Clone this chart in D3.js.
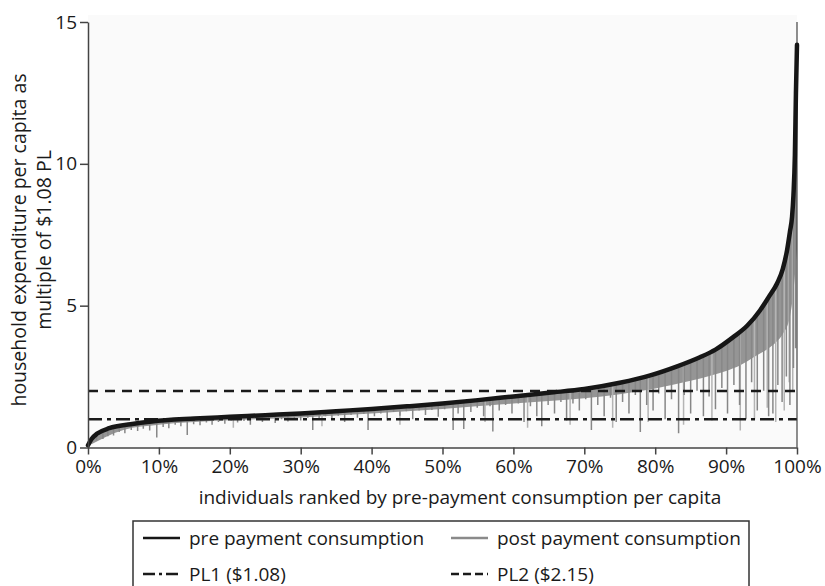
<!DOCTYPE html>
<html>
<head>
<meta charset="UTF-8">
<title>pre and post payment consumption</title>
<script src="https://d3js.org/d3.v7.min.js"></script>
<style>
body { margin: 0; background: #fff; }
svg text { font-family: "Open Sans", "Noto Sans", sans-serif; fill: #1a1a1a; }
</style>
</head>
<body>
<svg id="chart" width="825" height="586"></svg>
<script type="text/javascript">

// pre payment consumption (sorted) : percentile of individuals -> multiple of PL
var prePct = [0, 0.5, 1.3, 3, 6, 9, 15, 20, 25, 30, 35, 40, 45, 50, 55, 60, 65, 70, 75, 79.3, 83, 86.3, 88.5, 91, 93, 94.8, 96, 97.2, 98, 98.6, 99, 99.3, 99.5, 99.7, 99.85, 100];
var preVal = [0.08, 0.3, 0.49, 0.68, 0.82, 0.92, 1.02, 1.08, 1.14, 1.2, 1.28, 1.36, 1.45, 1.55, 1.67, 1.8, 1.93, 2.06, 2.28, 2.54, 2.85, 3.18, 3.45, 3.89, 4.3, 4.84, 5.3, 5.79, 6.3, 6.96, 7.6, 8.13, 8.9, 10.3, 12.5, 14.2];

// lower edge of the dense post payment band
var bandPct = [0, 5, 10, 20, 30, 40, 50, 60, 65, 70, 75, 80, 85, 88, 90, 92, 94, 96, 97, 98, 99, 99.5, 100];
var bandVal = [0.05, 0.62, 0.8, 0.96, 1.06, 1.2, 1.36, 1.55, 1.64, 1.74, 1.88, 2.08, 2.35, 2.55, 2.7, 2.9, 3.2, 3.5, 3.7, 4.0, 4.6, 5.5, 7];

// single households whose post payment consumption drops further [pct, value]
var spikesDark = [
	[1.2,0.25],[2.1,0.3],[2.8,0.4],[3.6,0.42],[4.4,0.55],[5.2,0.5],[6.1,0.62],[7.0,0.58],[7.8,0.66],[8.7,0.6],[9.7,0.35],
	[10.6,0.72],[11.4,0.68],[12.3,0.8],[13.1,0.75],[14.0,0.44],[14.9,0.82],[15.8,0.78],[16.7,0.88],[17.5,0.8],[18.4,0.9],[19.3,0.84],
	[20.2,0.95],[21.1,0.88],[22.0,0.93],[22.9,0.8],[23.8,0.98],[24.6,0.9],[25.5,0.99],[26.4,0.86],[27.3,1.0],[28.2,0.92],[29.1,1.02],
	[30.0,0.95],[31.0,1.05],[31.7,0.62],[32.6,1.0],[33.5,1.1],[34.4,0.98],[35.3,1.12],[36.2,0.9],[37.1,1.15],[38.0,1.05],[38.9,1.18],[39.5,0.62],
	[40.4,1.1],[41.3,1.2],[42.2,0.95],[43.1,1.25],[44.0,1.12],[44.9,1.28],[45.8,1.0],[46.7,1.3],[47.6,1.15],[48.5,1.32],[49.4,1.08],
	[50.3,1.35],[51.5,0.62],[52.2,1.2],[53.0,0.65],[54.0,1.25],[54.9,1.4],[55.8,1.1],[56.7,1.45],[57.1,0.56],[58.0,1.3],[58.9,1.5],[59.8,1.2],
	[60.7,1.55],[61.5,0.9],[62.4,1.45],[63.3,1.1],[64.0,0.75],[64.9,1.5],[65.8,1.2],[66.7,1.6],[67.5,0.95],[68.4,1.55],[69.3,1.3],
	[70.2,1.7],[71.0,0.62],[71.9,1.5],[72.8,1.1],[73.7,1.75],[74.5,0.9],[75.4,1.6],[76.3,1.2],[77.2,1.85],[77.9,0.55],[78.8,1.5],[79.7,1.3],
	[80.5,1.9],[81.4,1.0],[82.3,1.7],[83.3,0.5],[84.1,1.85],[85.0,1.2],[85.9,2.0],[86.8,1.1],[87.6,1.8],[88.5,1.35],[89.4,2.1],
	[90.2,1.2],[91.1,2.2],[91.9,1.5],[92.8,1.0],[93.6,2.3],[94.4,1.3],[95.3,2.0],[96.0,1.1],[96.6,1.2],[97.3,2.2],[97.9,1.6],[98.5,2.5],[99.0,1.5],[99.5,2.8],[99.8,3.5]
];
var spikesLight = [
	[20.5,0.7],[33,0.75],[44,0.8],[56,0.9],[62,0.7],[68,0.8],[74,0.7],[79,0.9],[84,0.8],[88,0.95],
	[92,0.6],[94,1.0],[95.8,1.4],[97,0.9],[98.2,1.3],[98.9,2.3],[99.4,2.0]
];

// poverty lines as multiple of $1.08
var plValues = [1, 2.15 / 1.08];
var plNames = ["PL1 ($1.08)", "PL2 ($2.15)"];

var xTicks = [0, 10, 20, 30, 40, 50, 60, 70, 80, 90, 100];
var yTicks = [0, 5, 10, 15];

var svg = d3.select("#chart");
var x = d3.scaleLinear().domain([0, 100]).range([88, 797]);
var y = d3.scaleLinear().domain([0, 15]).range([447.5, 22]);

var pre = prePct.map(function(p, i) { return [p, preVal[i]]; });
var band = bandPct.map(function(p, i) { return [p, bandVal[i]]; });

// plot background
svg.append("rect")
	.attr("x", x(0)).attr("y", y(15) - 7)
	.attr("width", x(100) - x(0)).attr("height", y(0) - y(15) + 7)
	.attr("fill", "#fafafa");

// clip: everything under the pre payment curve
var underPre = d3.area()
	.x(function(d) { return x(d[0]); })
	.y0(y(0))
	.y1(function(d) { return y(d[1]); })
	.curve(d3.curveMonotoneX);

svg.append("clipPath").attr("id", "under")
	.append("path").attr("d", underPre(pre));

var post = svg.append("g").attr("clip-path", "url(#under)");

post.append("path")
	.attr("d", d3.area()
		.x(function(d) { return x(d[0]); })
		.y0(function(d) { return y(d[1]); })
		.y1(y(15))
		.curve(d3.curveMonotoneX)(band))
	.attr("fill", "#959595");

post.selectAll(".spl").data(spikesLight).enter().append("line")
	.attr("x1", function(d) { return x(d[0]); })
	.attr("x2", function(d) { return x(d[0]); })
	.attr("y1", function(d) { return y(d[1]); })
	.attr("y2", y(15))
	.attr("stroke", "#b4b4b4").attr("stroke-width", 1.5);

post.selectAll(".spd").data(spikesDark).enter().append("line")
	.attr("x1", function(d) { return x(d[0]); })
	.attr("x2", function(d) { return x(d[0]); })
	.attr("y1", function(d) { return y(d[1]); })
	.attr("y2", y(15))
	.attr("stroke", "#878787").attr("stroke-width", 1.5);

// poverty lines
var plDash = ["14,5,4,5", "10,7"];
svg.selectAll(".pl").data(plValues).enter().append("line")
	.attr("x1", x(0)).attr("x2", x(100))
	.attr("y1", function(d) { return y(d); })
	.attr("y2", function(d) { return y(d); })
	.attr("stroke", "#1a1a1a").attr("stroke-width", 2.5)
	.attr("stroke-dasharray", function(d, i) { return plDash[i]; });

// right frame line
svg.append("line")
	.attr("x1", x(100)).attr("x2", x(100))
	.attr("y1", y(15)).attr("y2", y(0))
	.attr("stroke", "#444").attr("stroke-width", 1.2);

// pre payment curve
svg.append("path")
	.attr("d", d3.line()
		.x(function(d) { return x(d[0]); })
		.y(function(d) { return y(d[1]); })
		.curve(d3.curveMonotoneX)(pre))
	.attr("fill", "none")
	.attr("stroke", "#161616").attr("stroke-width", 4.5)
	.attr("stroke-linecap", "round");

// axes
var xAxis = svg.append("g").attr("transform", "translate(0," + y(0) + ")")
	.call(d3.axisBottom(x).tickValues(xTicks).tickSize(7).tickSizeOuter(0)
		.tickFormat(function(d) { return d + "%"; }));
var yAxis = svg.append("g").attr("transform", "translate(" + x(0) + ",0)")
	.call(d3.axisLeft(y).tickValues(yTicks).tickSize(8).tickSizeOuter(0));

[xAxis, yAxis].forEach(function(a) {
	a.select(".domain").attr("stroke", "#444").attr("stroke-width", 1.5);
	a.selectAll(".tick line").attr("stroke", "#444").attr("stroke-width", 1.5);
	a.selectAll("text").attr("font-size", 19).attr("fill", "#1a1a1a")
		.style("font-family", "'Open Sans', sans-serif");
});
xAxis.selectAll("text").attr("dy", "0.8em");

// axis titles
svg.append("text")
	.attr("x", 460).attr("y", 504)
	.attr("text-anchor", "middle").attr("font-size", 19)
	.text("individuals ranked by pre-payment consumption per capita");

var yTitle = svg.append("text")
	.attr("transform", "translate(0,240) rotate(-90)")
	.attr("text-anchor", "middle").attr("font-size", 19.5);
yTitle.append("tspan").attr("x", 0).attr("y", 26).text("household expenditure per capita as");
yTitle.append("tspan").attr("x", 0).attr("y", 51).text("multiple of $1.08 PL");

// legend
svg.append("rect")
	.attr("x", 133).attr("y", 521).attr("width", 616).attr("height", 90)
	.attr("fill", "#fff").attr("stroke", "#333").attr("stroke-width", 1.5);

var legendItems = [
	{ name: "pre payment consumption", col: 0, row: 0, color: "#161616", dash: null },
	{ name: "post payment consumption", col: 1, row: 0, color: "#8a8a8a", dash: null },
	{ name: plNames[0], col: 0, row: 1, color: "#1a1a1a", dash: "12,4,3,4" },
	{ name: plNames[1], col: 1, row: 1, color: "#1a1a1a", dash: "8,4" }
];
var lg = svg.selectAll(".lg").data(legendItems).enter().append("g")
	.attr("transform", function(d) { return "translate(" + (143 + d.col * 308) + "," + (538 + d.row * 36) + ")"; });
lg.append("line")
	.attr("x1", 0).attr("x2", 37).attr("y1", 0).attr("y2", 0)
	.attr("stroke", function(d) { return d.color; })
	.attr("stroke-width", 2.5)
	.attr("stroke-dasharray", function(d) { return d.dash; });
lg.append("text")
	.attr("x", 46).attr("y", 0).attr("dy", "0.35em")
	.attr("font-size", 19)
	.text(function(d) { return d.name; });

</script>
</body>
</html>
